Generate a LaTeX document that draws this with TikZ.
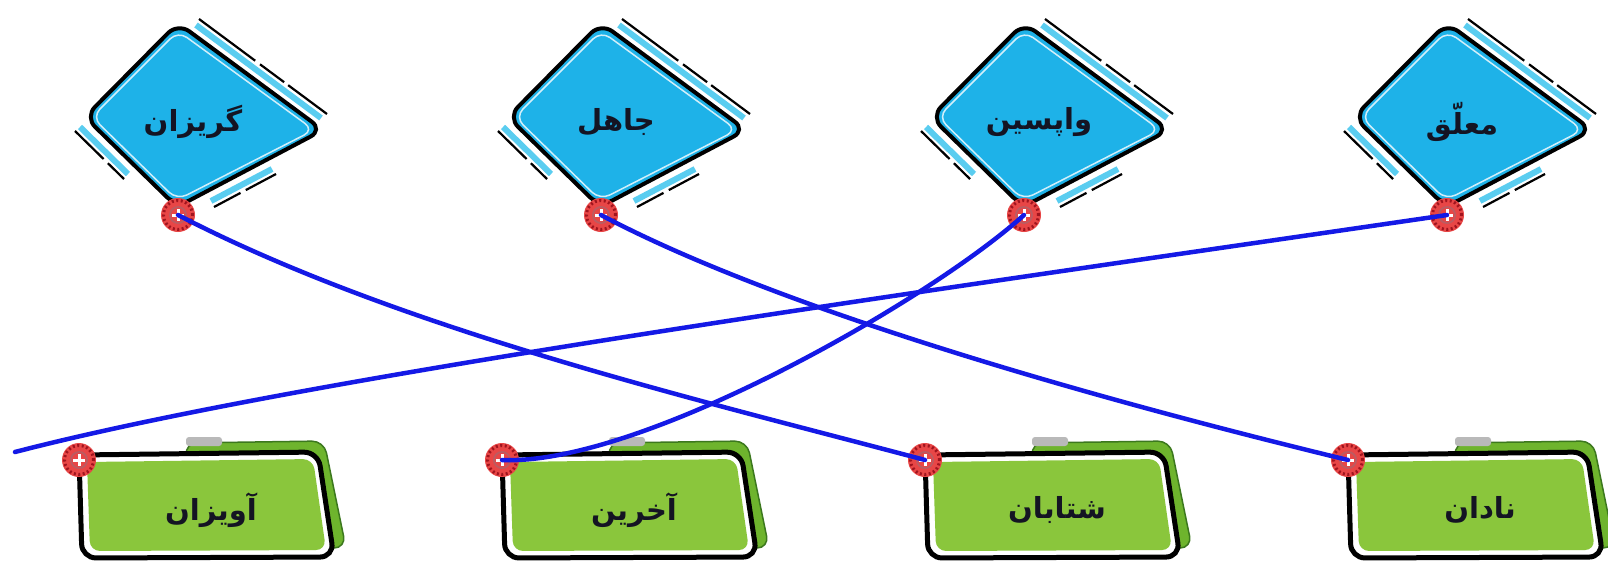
\documentclass[tikz,border=0pt]{standalone}
\usepackage{fontspec}
\newfontfamily\arabicfont[Script=Arabic]{DejaVu Sans}
\TeXXeTstate=1
\definecolor{dcyan}{RGB}{30,178,232}
\definecolor{lcyan}{RGB}{90,205,240}
\definecolor{gfill}{RGB}{138,198,60}
\definecolor{gshadow}{RGB}{110,180,45}
\definecolor{gdark}{RGB}{60,120,30}
\definecolor{dotred}{RGB}{232,70,70}
\definecolor{dotdark}{RGB}{160,20,30}
\definecolor{linkblue}{RGB}{20,25,230}
\definecolor{txt}{RGB}{20,20,35}
\tikzset{
  lbl/.style={font=\arabicfont\bfseries\fontsize{29}{34}\selectfont, text=txt, inner sep=0pt},
  link/.style={draw=linkblue, line width=4.5pt, line cap=round},
  deco/.style={draw=lcyan, line width=6pt},
  decoedge/.style={draw=black, line width=2.2pt},
}
\newcommand\drawdiamond[4]{%
\begin{scope}[shift={(#1,0)}]
  % decorative strokes outside
  \draw[deco] (196,25) -- (321,118);
  \draw[decoedge, dash pattern=on 70pt off 6pt on 30pt off 5pt on 60pt off 4pt] (199,19) -- (327,114);
  \draw[deco] (80,127) -- (128,174);
  \draw[decoedge, dash pattern=on 40pt off 6pt on 40pt off 4pt] (75,131) -- (124,179);
  \draw[deco] (211,201) -- (272,169);
  \draw[decoedge, dash pattern=on 30pt off 6pt on 40pt off 4pt] (214,207) -- (276,174);
  % main shape
  \filldraw[fill=dcyan, draw=black, line width=4pt, rounded corners=14pt]
    (85,117) -- (178,23) -- (323,130) -- (177,207) -- cycle;
  \draw[white, line width=1.5pt, rounded corners=11pt, opacity=0.8]
    (92,117) -- (178,31) -- (314,130) -- (177,200) -- cycle;
  \node[lbl] (#2) at (193,122) {\beginR #3\endR};
  \coordinate (#4) at (178,215);
\end{scope}}
\newcommand\drawgbox[4]{%
\begin{scope}[shift={(#1,0)}]
  \filldraw[fill=gshadow, draw=gdark, line width=1.5pt, rounded corners=12pt]
    (185,443) -- (324,441) -- (346,548) -- (300,548) -- (190,500) -- cycle;
  \fill[gray!55, rounded corners=3pt] (186,446) rectangle (222,437);
  \fill[white, rounded corners=14pt] (79,455) -- (318,452) -- (334,557) -- (82,558) -- cycle;
  \fill[gfill, rounded corners=10pt] (87,462) -- (313,459) -- (326,550) -- (90,551) -- cycle;
  \draw[black, line width=5pt, rounded corners=14pt] (79,455) -- (318,452) -- (334,557) -- (82,558) -- cycle;
  \node[lbl] (#2) at (211,510) {\beginR #3\endR};
  \coordinate (#4) at (79,460);
\end{scope}}
\newcommand\reddot[1]{%
  \fill[dotred] (#1) circle (17pt);
  \draw[dotdark, line width=3pt, dash pattern=on 2pt off 2.5pt] (#1) circle (14.5pt);
  \fill[dotdark!70] (#1) circle (9pt);
  \fill[dotred] (#1) circle (7pt);
  \draw[white, line width=3pt] ([xshift=-6pt]#1) -- ([xshift=6pt]#1) ([yshift=-6pt]#1) -- ([yshift=6pt]#1);
}
\begin{document}
\begin{tikzpicture}[x=1pt,y=-1pt]
  \useasboundingbox (0,0) rectangle (1608,573);
  \fill[white] (0,0) rectangle (1608,573);
  \drawdiamond{0}{t1}{گریزان}{t1dot}
  \drawdiamond{423}{t2}{جاهل}{t2dot}
  \drawdiamond{846}{t3}{واپسین}{t3dot}
  \drawdiamond{1269}{t4}{معلّق}{t4dot}
  \drawgbox{0}{b1}{آویزان}{b1dot}
  \drawgbox{423}{b2}{آخرین}{b2dot}
  \drawgbox{846}{b3}{شتابان}{b3dot}
  \drawgbox{1269}{b4}{نادان}{b4dot}
  \coordinate (leftend) at (15,452);
  \reddot{t1dot}\reddot{t2dot}\reddot{t3dot}\reddot{t4dot}
  \reddot{b1dot}\reddot{b2dot}\reddot{b3dot}\reddot{b4dot}
  \draw[link] (t1dot) .. controls (400,330) and (700,400) .. (b3dot);
  \draw[link] (t2dot) .. controls (780,310) and (1100,400) .. (b4dot);
  \draw[link] (t3dot) .. controls (930,300) and (640,466) .. (b2dot);
  \draw[link] (t4dot) .. controls (900,295) and (300,378) .. (leftend);
\end{tikzpicture}
\end{document}
